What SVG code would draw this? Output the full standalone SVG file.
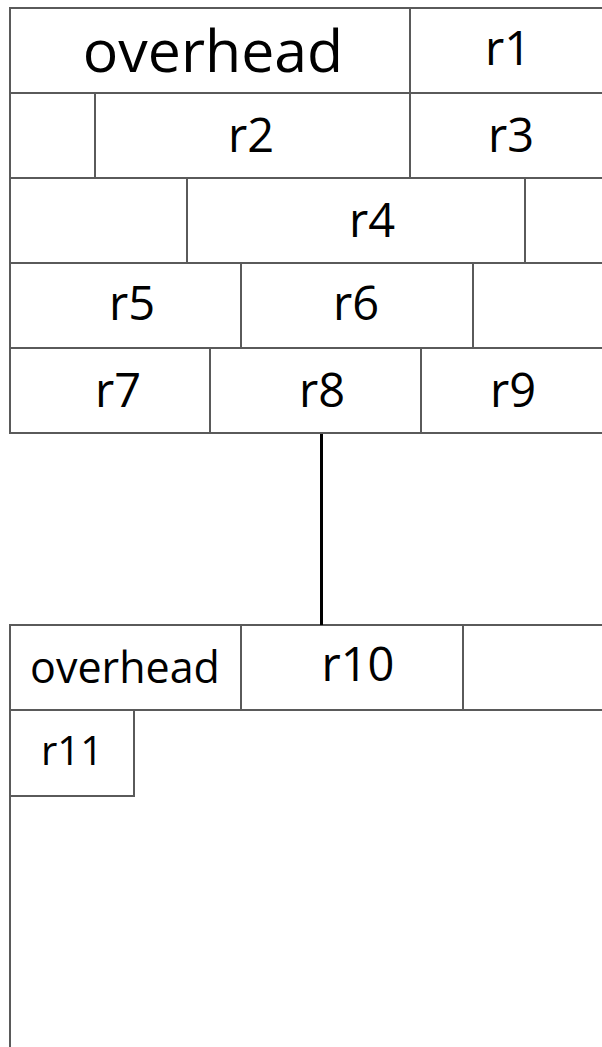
<svg xmlns="http://www.w3.org/2000/svg" width="602" height="1047" viewBox="0 0 602 1047">
<style>
.c{fill:#fff;stroke:#5a5a5a;stroke-width:2}
.t{font-family:"Open Sans","Noto Sans",sans-serif;font-size:47px;fill:#000;text-anchor:middle}
.big{font-size:59px}
.mid{font-size:43px}
.sm{font-size:40px}
.ln{stroke:#5a5a5a;stroke-width:2;fill:none}
</style>
<rect width="602" height="1047" fill="#fff"/>
<g id="row1">
<g id="overhead-top"><rect class="c" x="10" y="8" width="400" height="85"/><text class="t big" x="213" y="72">overhead</text></g>
<g id="r1"><rect class="c" x="410" y="8" width="200" height="85"/><text class="t" x="508" y="65">r1</text></g>
</g>
<g id="row2">
<g id="row2-blank"><rect class="c" x="10" y="93" width="85" height="85"/></g>
<g id="r2"><rect class="c" x="95" y="93" width="315" height="85"/><text class="t" x="251" y="152">r2</text></g>
<g id="r3"><rect class="c" x="410" y="93" width="200" height="85"/><text class="t" x="511" y="152">r3</text></g>
</g>
<g id="row3">
<g id="row3-blank"><rect class="c" x="10" y="178" width="177" height="85"/></g>
<g id="r4"><rect class="c" x="187" y="178" width="338" height="85"/><text class="t" x="372" y="237">r4</text></g>
<g id="row3-right"><rect class="c" x="525" y="178" width="85" height="85"/></g>
</g>
<g id="row4">
<g id="r5"><rect class="c" x="10" y="263" width="231" height="85"/><text class="t" x="132" y="320">r5</text></g>
<g id="r6"><rect class="c" x="241" y="263" width="232" height="85"/><text class="t" x="356" y="320">r6</text></g>
<g id="row4-right"><rect class="c" x="473" y="263" width="137" height="85"/></g>
</g>
<g id="row5">
<g id="r7"><rect class="c" x="10" y="348" width="200" height="85"/><text class="t" x="118" y="407">r7</text></g>
<g id="r8"><rect class="c" x="210" y="348" width="211" height="85"/><text class="t" x="322" y="407">r8</text></g>
<g id="r9"><rect class="c" x="421" y="348" width="189" height="85"/><text class="t" x="513" y="407">r9</text></g>
</g>
<g id="bottom">
<g id="container"><path class="ln" d="M10 625 V1050"/></g>
<g id="overhead-bottom"><rect class="c" x="10" y="625" width="231" height="85"/><text class="t mid" x="125" y="683">overhead</text></g>
<g id="r10"><rect class="c" x="241" y="625" width="222" height="85"/><text class="t" x="358" y="681">r10</text></g>
<g id="row6-right"><rect class="c" x="463" y="625" width="147" height="85"/></g>
<g id="r11"><rect class="c" x="10" y="710" width="124" height="86"/><text class="t sm" x="72" y="765">r11</text></g>
</g>
<g id="connectors">
<line x1="321.5" y1="434" x2="321.5" y2="625" stroke="#000" stroke-width="3"/>
</g>
</svg>
